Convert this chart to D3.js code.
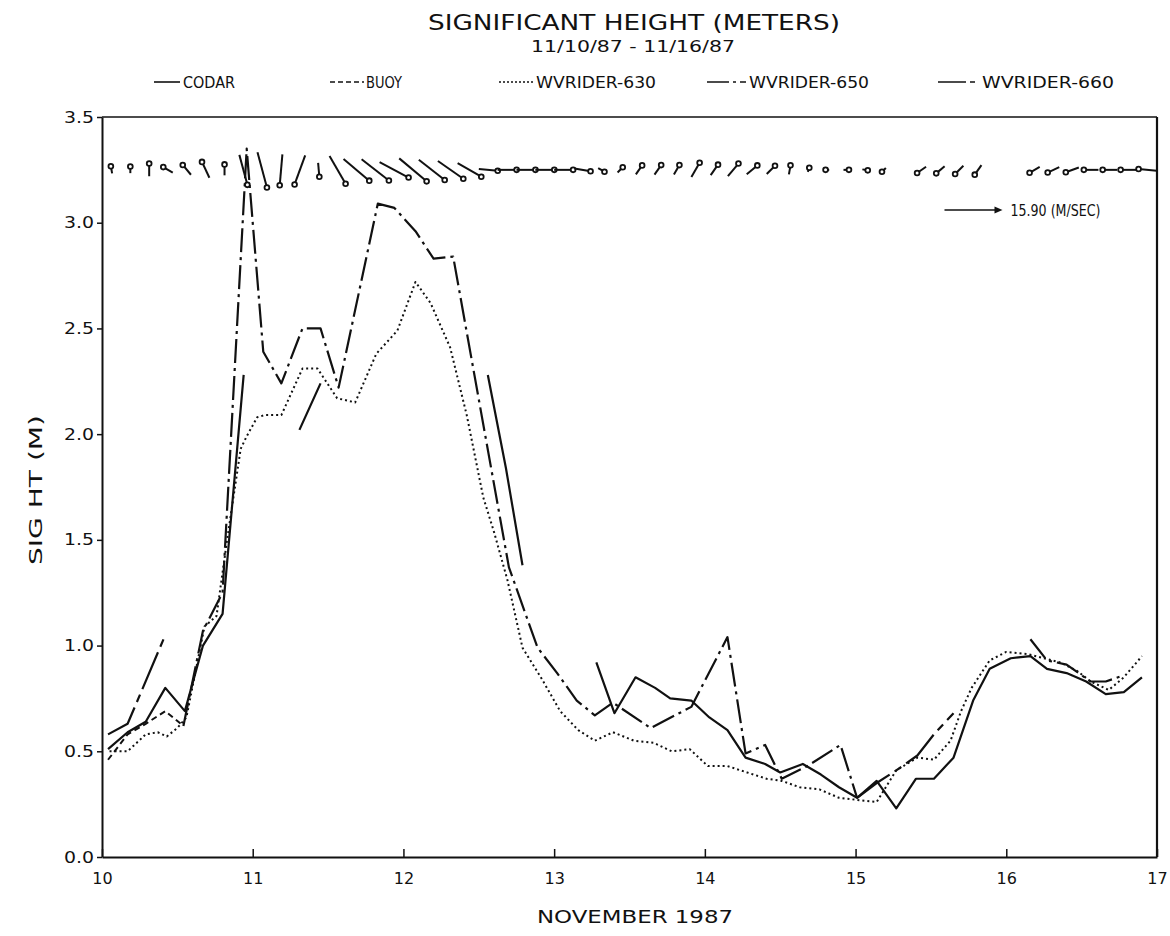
<!DOCTYPE html>
<html>
<head>
<meta charset="utf-8">
<script src="https://cdn.jsdelivr.net/npm/d3@7"></script>
<style>
body { margin: 0; background: #fff; }
text { font-family: "DejaVu Sans", sans-serif; fill: #111; }
</style>
</head>
<body>
<script>
// significant wave height, nov 10-17 1987 (days of month, meters)
var codarT = [10.04, 10.17, 10.29, 10.42, 10.55, 10.67, 10.80, 10.94, null, 11.31, 11.45, null, 12.56, 12.68, 12.79, null,
    13.28, 13.40, 13.54, 13.67, 13.77, 13.91, 14.03, 14.15, 14.27, 14.40, 14.50, 14.65, 14.77, 14.89, 15.01, 15.14, 15.27,
    15.40, 15.52, 15.65, 15.78, 15.89, 16.03, 16.16, 16.27, 16.40, 16.53, 16.66, 16.78, 16.90];
var codarH = [0.51, 0.59, 0.64, 0.80, 0.69, 1.00, 1.15, 2.28, null, 2.02, 2.24, null, 2.28, 1.84, 1.38, null,
    0.92, 0.68, 0.85, 0.80, 0.75, 0.74, 0.66, 0.60, 0.47, 0.44, 0.40, 0.44, 0.39, 0.33, 0.28, 0.36, 0.23,
    0.37, 0.37, 0.47, 0.74, 0.89, 0.94, 0.95, 0.89, 0.87, 0.83, 0.77, 0.78, 0.85];

var buoyT = [10.04, 10.17, 10.29, 10.42, 10.54];
var buoyH = [0.46, 0.58, 0.63, 0.69, 0.62];

var wr630T = [10.05, 10.17, 10.29, 10.37, 10.43, 10.50, 10.56, 10.68, 10.76, 10.83, 10.92, 10.96, 11.03, 11.08, 11.19,
    11.33, 11.43, 11.56, 11.68, 11.82, 11.96, 12.08, 12.18, 12.31, 12.42, 12.53, 12.60, 12.69, 12.79, 12.92, 13.04,
    13.16, 13.27, 13.39, 13.53, 13.66, 13.78, 13.90, 14.02, 14.15, 14.28, 14.41, 14.51, 14.63, 14.76, 14.89, 15.01,
    15.14, 15.27, 15.41, 15.52, 15.63, 15.70, 15.77, 15.89, 16.00, 16.14, 16.25, 16.36, 16.47, 16.56, 16.68, 16.78, 16.90];
var wr630H = [0.50, 0.50, 0.58, 0.59, 0.57, 0.61, 0.66, 1.09, 1.14, 1.50, 1.93, 1.99, 2.08, 2.09, 2.09,
    2.31, 2.31, 2.17, 2.15, 2.38, 2.49, 2.72, 2.62, 2.41, 2.09, 1.70, 1.54, 1.31, 0.99, 0.84, 0.69,
    0.60, 0.55, 0.59, 0.55, 0.54, 0.50, 0.51, 0.43, 0.43, 0.40, 0.37, 0.36, 0.33, 0.32, 0.28, 0.27,
    0.26, 0.41, 0.47, 0.46, 0.55, 0.69, 0.80, 0.93, 0.97, 0.96, 0.94, 0.92, 0.88, 0.83, 0.79, 0.85, 0.95];

var wr650T = [10.54, 10.67, 10.80, 10.96, 11.07, 11.19, 11.33, 11.45, 11.57, 11.83, 11.94, 12.08, 12.20, 12.33, 12.70,
    12.89, 13.02, 13.15, 13.27, 13.39, 13.64, 13.91, 14.15, 14.27, 14.40, 14.51, 14.68, 14.90, 15.01, null,
    16.16, 16.27, 16.40, 16.56, 16.66, 16.78];
var wr650H = [0.62, 1.07, 1.25, 3.35, 2.39, 2.24, 2.50, 2.50, 2.22, 3.09, 3.07, 2.96, 2.83, 2.84, 1.37,
    0.99, 0.87, 0.74, 0.67, 0.73, 0.61, 0.71, 1.04, 0.49, 0.53, 0.37, 0.43, 0.53, 0.28, null,
    1.03, 0.93, 0.91, 0.83, 0.83, 0.86];

var wr660T = [10.04, 10.17, 10.42, null, 15.01, 15.14, 15.27, 15.41, 15.52, 15.65];
var wr660H = [0.58, 0.63, 1.05, null, 0.28, 0.35, 0.41, 0.48, 0.58, 0.68];

// wind vectors every 3 hours: speed m/s, direction toward (deg, 0 = north)
var windT = [10.063, 10.188, 10.313, 10.438, 10.563, 10.688, 10.813, 10.938, 11.063, 11.188, 11.313, 11.438, 11.563, 11.688,
    11.813, 11.938, 12.063, 12.188, 12.313, 12.438, 12.563, 12.688, 12.813, 12.938, 13.063, 13.188, 13.313, 13.438,
    13.563, 13.688, 13.813, 13.938, 14.063, 14.188, 14.313, 14.438, 14.563, 14.688, 14.813, 14.938, 15.063, 15.188,
    15.313, 15.438, 15.563, 15.688, 15.813, 15.938, 16.063, 16.188, 16.313, 16.438, 16.563, 16.688, 16.813, 16.938];
var windSpeed = [2.0, 1.8, 3.5, 3.0, 3.5, 4.8, 3.0, 8.5, 10.0, 8.5, 8.5, 3.8, 8.8, 9.2,
    9.5, 9.0, 9.8, 9.0, 8.5, 7.5, 5.2, 5.2, 5.2, 5.2, 5.2, 4.5, 2.0, 2.0,
    3.0, 3.2, 3.0, 4.5, 3.5, 4.5, 3.8, 3.2, 2.5, 1.2, 1.0, 1.5, 1.5, 1.5,
    null, 3.0, 3.0, 3.2, 3.2, null, null, 3.2, 3.5, 3.8, 4.0, 4.0, 4.5, 5.0];
var windDir = [350, 0, 0, 300, 320, 335, 0, 165, 165, 185, 200, 175, 150, 130,
    128, 118, 130, 128, 125, 120, 95, 90, 90, 90, 90, 100, 120, 45,
    35, 35, 30, 30, 35, 40, 50, 45, 10, 20, 270, 90, 100, 225,
    null, 235, 230, 225, 215, null, null, 240, 245, 250, 270, 270, 270, 275];
var keySpeed = 15.90;
var windRowH = 3.25;

var yTicks = [0, 0.5, 1.0, 1.5, 2.0, 2.5, 3.0, 3.5];
var xTicks = [10, 11, 12, 13, 14, 15, 16, 17];

var series = [
    { name: "CODAR", t: codarT, h: codarH, dash: null, w: 2.2 },
    { name: "BUOY", t: buoyT, h: buoyH, dash: "6,4", w: 2 },
    { name: "WVRIDER-630", t: wr630T, h: wr630H, dash: "2,3", w: 2 },
    { name: "WVRIDER-650", t: wr650T, h: wr650H, dash: "24,5,3,5", w: 2.2 },
    { name: "WVRIDER-660", t: wr660T, h: wr660H, dash: "40,6,8,6", w: 2.2 }
];

var svg = d3.select("body").append("svg").attr("width", 1170).attr("height", 936);
var x = d3.scaleLinear().domain([10, 17]).range([102, 1157]);
var y = d3.scaleLinear().domain([0, 3.5]).range([857, 117]);
var ink = "#111";

// titles
svg.append("text").attr("x", 634).attr("y", 30).attr("text-anchor", "middle")
    .attr("font-size", 22).attr("textLength", 412).attr("lengthAdjust", "spacingAndGlyphs")
    .text("SIGNIFICANT HEIGHT (METERS)");
svg.append("text").attr("x", 633).attr("y", 52).attr("text-anchor", "middle")
    .attr("font-size", 16).attr("textLength", 204).attr("lengthAdjust", "spacingAndGlyphs")
    .text("11/10/87 - 11/16/87");

// legend
var legendPos = [[154, 180, 183, 52], [330, 364, 366, 36], [499, 533, 536, 120], [707, 746, 749, 120], [938, 979, 982, 132]];
series.forEach(function(s, i) {
    var p = legendPos[i];
    svg.append("line").attr("x1", p[0]).attr("x2", p[1]).attr("y1", 82).attr("y2", 82)
        .attr("stroke", ink).attr("stroke-width", 1.6)
        .attr("stroke-dasharray", i == 0 ? null : (i == 1 ? "5,3" : (i == 2 ? "2,2" : (i == 3 ? "22,4,3,4" : "28,4,5,4"))));
    svg.append("text").attr("x", p[2]).attr("y", 88).attr("font-size", 15)
        .attr("textLength", p[3]).attr("lengthAdjust", "spacingAndGlyphs").text(s.name);
});

// axes
var yAxis = d3.axisLeft(y).tickValues(yTicks).tickFormat(d3.format(".1f")).tickSize(5).tickSizeOuter(0).tickPadding(3);
var gy = svg.append("g").attr("transform", "translate(102,0)").call(yAxis);
var xAxis = d3.axisBottom(x).tickValues(xTicks).tickFormat(d3.format("d")).tickSize(-8).tickSizeOuter(0).tickPadding(16);
var gx = svg.append("g").attr("transform", "translate(0,857)").call(xAxis);
[gy, gx].forEach(function(g) {
    g.select(".domain").attr("stroke", ink).attr("stroke-width", 2);
    g.selectAll(".tick line").attr("stroke", ink).attr("stroke-width", 1.5);
    g.selectAll(".tick text").attr("font-size", 16).attr("fill", ink).attr("font-family", "DejaVu Sans");
});
gy.selectAll(".tick text").attr("textLength", 30).attr("lengthAdjust", "spacingAndGlyphs");

// frame top and right
svg.append("line").attr("x1", x(10)).attr("x2", x(17)).attr("y1", y(3.5)).attr("y2", y(3.5))
    .attr("stroke", ink).attr("stroke-width", 1.4);
svg.append("line").attr("x1", x(17)).attr("x2", x(17)).attr("y1", y(3.5)).attr("y2", y(0))
    .attr("stroke", ink).attr("stroke-width", 2.2);

svg.append("text").attr("transform", "translate(42,490) rotate(-90)").attr("text-anchor", "middle")
    .attr("font-size", 17).attr("textLength", 150).attr("lengthAdjust", "spacingAndGlyphs")
    .text("SIG HT  (M)");
svg.append("text").attr("x", 635).attr("y", 923).attr("text-anchor", "middle")
    .attr("font-size", 18).attr("textLength", 196).attr("lengthAdjust", "spacingAndGlyphs")
    .text("NOVEMBER 1987");

// data lines
var line = d3.line().defined(function(d) { return d[0] != null && d[1] != null; })
    .x(function(d) { return x(d[0]); }).y(function(d) { return y(d[1]); });
series.forEach(function(s) {
    svg.append("path").datum(d3.zip(s.t, s.h)).attr("d", line)
        .attr("fill", "none").attr("stroke", ink).attr("stroke-width", s.w)
        .attr("stroke-dasharray", s.dash).attr("stroke-linejoin", "round");
});

// wind vectors, centred on their time
var windScale = 58 / keySpeed;
var winds = d3.zip(windT, windSpeed, windDir).filter(function(d) { return d[1] != null; });
winds.forEach(function(d) {
    var a = d[2] * Math.PI / 180;
    var len = d[1] * windScale;
    var dx = Math.sin(a) * len, dy = -Math.cos(a) * len;
    var cx = x(d[0]), cy = y(windRowH);
    svg.append("line").attr("x1", cx - dx / 2).attr("y1", cy - dy / 2).attr("x2", cx + dx / 2).attr("y2", cy + dy / 2)
        .attr("stroke", ink).attr("stroke-width", 2);
    svg.append("circle").attr("cx", cx + dx / 2).attr("cy", cy + dy / 2).attr("r", 2.4)
        .attr("fill", "#fff").attr("stroke", ink).attr("stroke-width", 1.8);
});

// key vector
var kx = x(15.59), ky = y(3.06);
var kl = keySpeed * windScale;
svg.append("line").attr("x1", kx).attr("x2", kx + kl - 6).attr("y1", ky).attr("y2", ky)
    .attr("stroke", ink).attr("stroke-width", 1.6);
svg.append("path").attr("d", d3.line()([[kx + kl - 8, ky - 3.5], [kx + kl, ky], [kx + kl - 8, ky + 3.5]]) + "Z")
    .attr("fill", ink);
svg.append("text").attr("x", kx + kl + 8).attr("y", ky + 6).attr("font-size", 16)
    .attr("textLength", 90).attr("lengthAdjust", "spacingAndGlyphs").text("15.90 (M/SEC)");
</script>
</body>
</html>
